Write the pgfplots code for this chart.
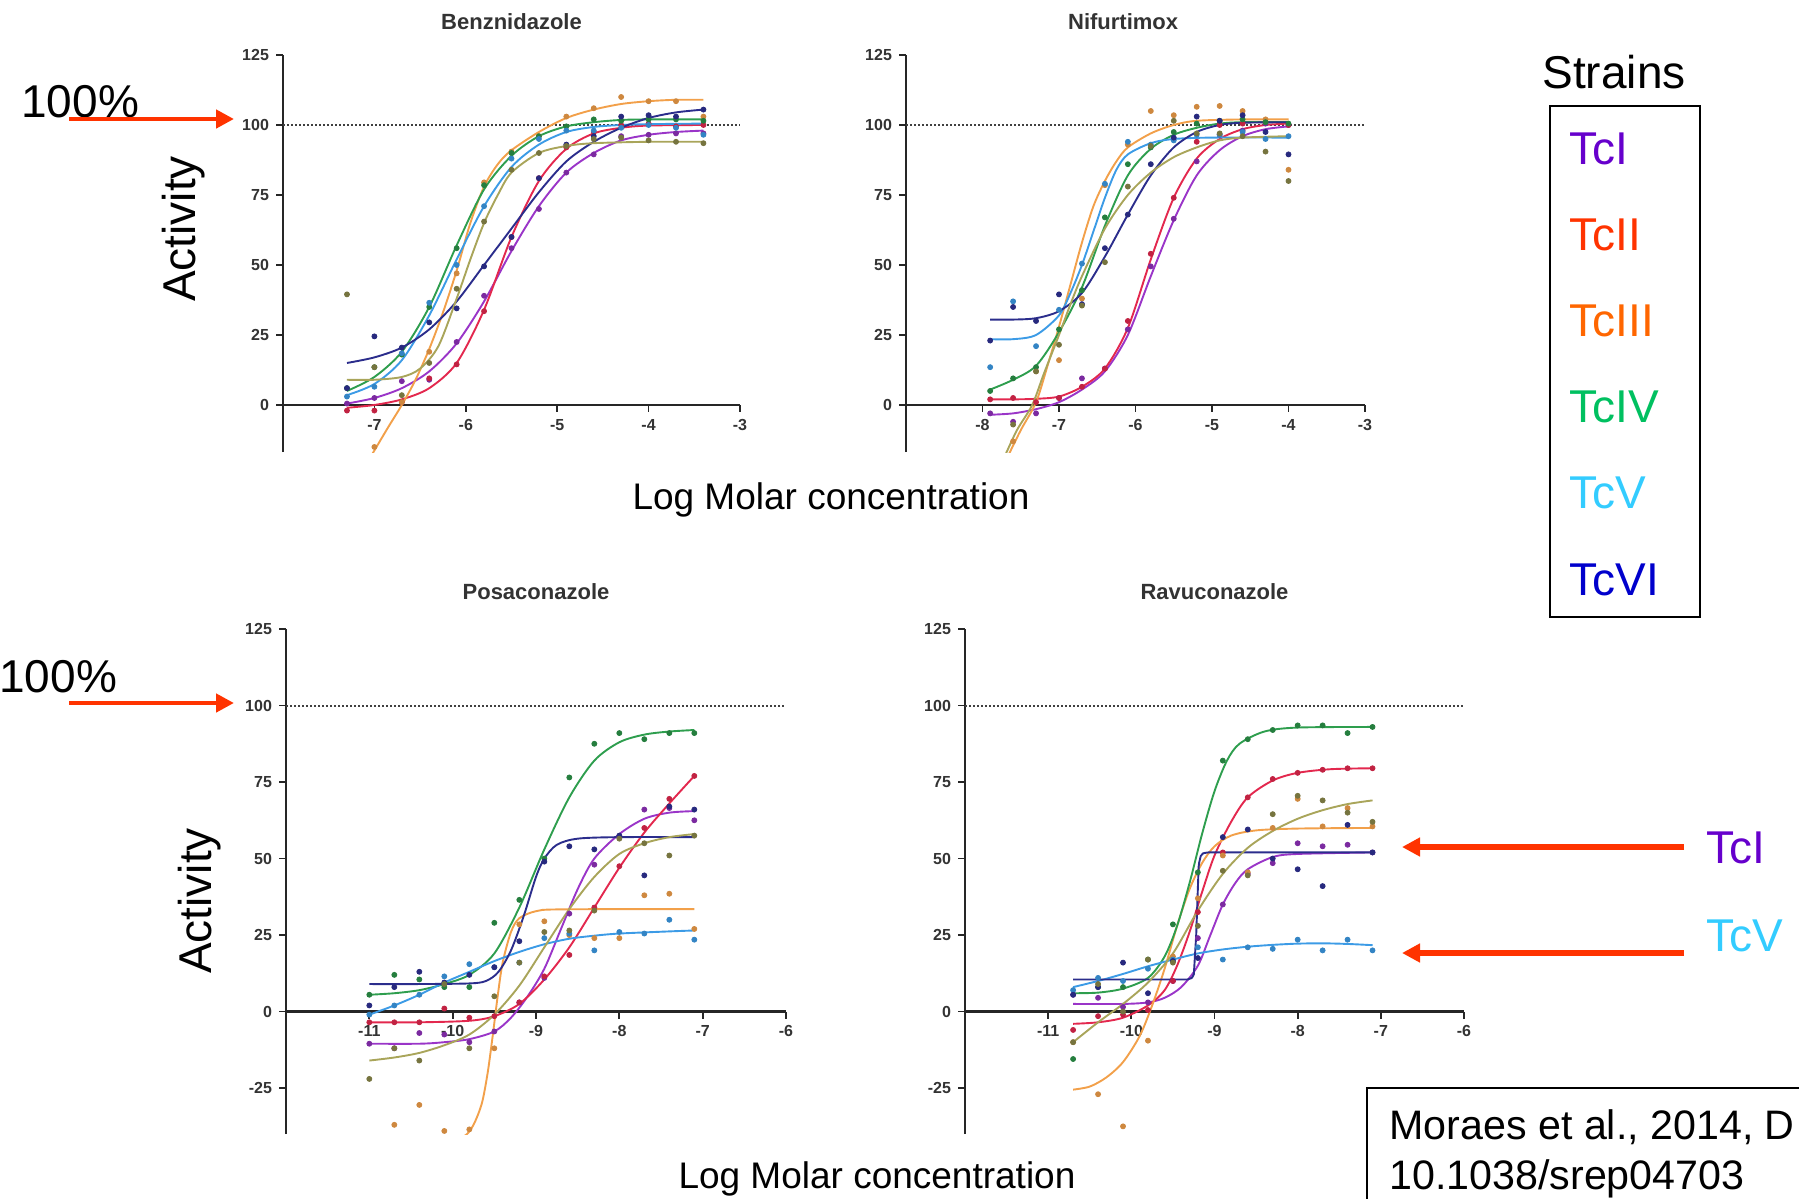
\documentclass[border=0pt]{standalone}
\usepackage{fontspec}
\setmainfont{Liberation Sans}
\usepackage{pgfplots}
\pgfplotsset{compat=1.18}
\usepackage{pgfplotstable}
\usetikzlibrary{arrows.meta}

% curve colours
\definecolor{pu}{HTML}{9A35C8}
\definecolor{rd}{HTML}{E3284E}
\definecolor{orn}{HTML}{F2A04A}
\definecolor{gr}{HTML}{2E9E4E}
\definecolor{lb}{HTML}{3C9BE6}
\definecolor{nv}{HTML}{2B2D8C}
\definecolor{ol}{HTML}{A9A55A}
% legend colours
\definecolor{tcone}{HTML}{6600CC}
\definecolor{tctwo}{HTML}{FF3300}
\definecolor{tcthree}{HTML}{FF6600}
\definecolor{tcfour}{HTML}{00C060}
\definecolor{tcfive}{HTML}{33CCFF}
\definecolor{tcsix}{HTML}{0000CC}
\definecolor{arr}{HTML}{FF3300}

\newcommand{\bigfont}{\fontsize{23}{27}\selectfont}

\pgfplotsset{
  prism/.style={
    scale only axis, anchor=south west,
    axis x line=middle, axis y line=left,
    axis line style={-, line width=1.1pt, black!85},
    tick style={line width=0.9pt, black!85},
    tick align=outside, major tick length=3.5pt,
    ymax=125,
    tick label style={font=\bfseries\fontsize{8}{9}\selectfont, text=black!80},
    /pgf/number format/assume math mode=true,
  },
  fit/.style={no marks, smooth, line width=0.95pt},
  pts/.style={only marks, mark=*, mark size=1.25pt},
  hundred/.style={densely dotted, line width=1pt, black!75},
}

% measured points: x, then purple, red, orange, green, light blue, navy, olive
\pgfplotstableread{
x     pu    rd    or    gr    lb    nv    ol
-7.3  0.5   -2    nan   6     3     6     39.5
-7.0  2.5   -2    -15   13.5  6.5   24.5  13.5
-6.7  8.5   1     1     18    18.5  20.5  3.5
-6.4  9     9.5   19    35    36.5  29.5  15
-6.1  22.5  14.5  47    56    50    34.5  41.5
-5.8  39    33.5  79.5  78.5  71    49.5  65.5
-5.5  56    60    90.5  90    88    60    84
-5.2  70    81    96    96    95    81    90
-4.9  83    92    103   99.5  98    93    92.5
-4.6  89.5  97.5  106   102   98    96    95
-4.3  96    100   110   101.5 99    103   95.5
-4.0  96.5  100.5 108.5 102   100   103.5 94.5
-3.7  97    99.5  108.5 102   99    103   94
-3.4  97    100   103   101.5 96.5  105.5 93.5
}\tBen
\pgfplotstableread{
x     pu    rd    or    gr    lb    nv    ol
-7.9  -3    2     nan   5     13.5  23    nan
-7.6  -6    2.5   -13   9.5   37    35    -7
-7.3  -3    1     12    13.5  21    30    12
-7.0  2.5   2.5   16    27    34    39.5  21.5
-6.7  9.5   6.5   38    41    50.5  36    35.5
-6.4  13    13    78.5  67    79    56    51
-6.1  27    30    93    86    94    68    78
-5.8  49.5  54    105   92    93    86    92.5
-5.5  66.5  74    103.5 97.5  94.5  95.5  101.5
-5.2  87    94    106.5 100.5 96.5  103   97
-4.9  96.5  100   106.8 101.5 96.5  101.5 97
-4.6  98    100.5 105   102   97.5  103.5 96
-4.3  100.5 101   102   101   95    97.5  90.5
-4.0  100   100   84    100.5 96    89.5  80
}\tNif
\pgfplotstableread{
x     pu    rd    or    gr    lb    nv    ol
-11   -10.5 -3.5  nan   5.5   -1    2     -22
-10.7 -12   -3.5  -37   12    2     8     -12
-10.4 -7    -3.5  -30.5 10.5  5.5   13    -16
-10.1 -7.5  1     -39   8     11.5  9.5   9
-9.8  -10   -2    -38.5 8     15.5  12    -12
-9.5  -6.5  -1.5  -12   29    14.5  14.5  5
-9.2  3     3     28.5  36.5  16    23    16
-8.9  11    11.5  29.5  50    24    49    26
-8.6  32    18.5  25    76.5  25.5  54    26.5
-8.3  48    34    24    87.5  20    53    33
-8.0  57    47.5  24    91    26    57.5  56.5
-7.7  66    60    38    89    25.5  44.5  55
-7.4  66.5  69.5  38.5  91    30    67    51
-7.1  62.5  77    27    91    23.5  66    57.5
}\tPos
\pgfplotstableread{
x     pu    rd    or    gr    lb    nv    ol
-10.7 5.5   -6    -10   -15.5 7     5.5   -10
-10.4 4.5   -1.5  -27   8     11    8     9
-10.1 1.5   -1    -37.5 8     10    16    0
-9.8  3     0.5   -9.5  17    14    6     17
-9.5  10    10    18    28.5  17    16.5  16
-9.2  24    32.5  37    45.5  21    17.5  28
-8.9  35    52    51    82    17    57    46
-8.6  45    70    45.5  89    21    59.5  44.5
-8.3  48.5  76    60    92    20.5  50    64.5
-8.0  55    78    69.5  93.5  23.5  46.5  70.5
-7.7  54    79    60.5  93.5  20    41    69
-7.4  54.5  79.5  66.5  91    23.5  61    65
-7.1  52    79.5  60.5  93    20    52    62
}\tRav

\begin{document}
\begin{tikzpicture}
\path[use as bounding box] (0pt,0pt) rectangle (899.5pt,-599.5pt);

% ---------------- Benznidazole
\begin{axis}[prism, at={(141.5pt,-226pt)}, width=228.5pt, height=198.5pt,
  xmin=-8, xmax=-3, ymin=-16.8, xtick={-7,...,-3}, ytick={0,25,...,125},
  title={Benznidazole},
  title style={at={(0.5,1)}, anchor=base, yshift=7pt, font=\bfseries\fontsize{11}{13}\selectfont, text=black!80}]
\addplot[hundred] coordinates {(-8,100) (-3,100)};
\addplot[fit, pu] coordinates {(-7.3,0.5) (-7.0,2.5) (-6.7,6) (-6.4,12) (-6.1,22) (-5.8,37) (-5.5,55) (-5.2,71) (-4.9,83) (-4.6,90) (-4.3,94.5) (-4.0,96.5) (-3.7,97.5) (-3.4,98)};
\addplot[fit, rd] coordinates {(-7.3,-1) (-7.0,0) (-6.7,2) (-6.4,6) (-6.1,15) (-5.8,34) (-5.5,60) (-5.2,80) (-4.9,91.5) (-4.6,97) (-4.3,99) (-4.0,99.8) (-3.4,100)};
\addplot[fit, orn] coordinates {(-7.05,-19) (-6.85,-8) (-6.7,0) (-6.55,9) (-6.4,20) (-6.25,33) (-6.1,48) (-5.95,65) (-5.8,78) (-5.65,86) (-5.5,91) (-5.2,97.5) (-4.9,102.5) (-4.6,105.5) (-4.3,107.5) (-4.0,108.5) (-3.7,109) (-3.4,109)};
\addplot[fit, gr] coordinates {(-7.3,5) (-7.0,10) (-6.7,19) (-6.4,35) (-6.1,57) (-5.8,77) (-5.5,89) (-5.2,96) (-4.9,99.5) (-4.6,101) (-4.3,101.8) (-4.0,102) (-3.4,102)};
\addplot[fit, lb] coordinates {(-7.3,3.5) (-7.0,7.5) (-6.7,16) (-6.4,32) (-6.1,52) (-5.8,71) (-5.5,85) (-5.2,93) (-4.9,97.5) (-4.6,99.3) (-4.3,100) (-4.0,100.3) (-3.4,100.5)};
\addplot[fit, nv] coordinates {(-7.3,15) (-7.0,17) (-6.7,20.5) (-6.4,27) (-6.1,37) (-5.8,50) (-5.5,63) (-5.2,76) (-4.9,87) (-4.6,94) (-4.3,99) (-4.0,102.5) (-3.7,104.5) (-3.4,105.5)};
\addplot[fit, ol] coordinates {(-7.3,9) (-7.0,9) (-6.7,10) (-6.5,13) (-6.3,21) (-6.1,38) (-5.95,52) (-5.8,65) (-5.65,75) (-5.5,83) (-5.2,90) (-4.9,92.5) (-4.6,93.5) (-4.0,94) (-3.4,94)};
\addplot[pts, pu!80!black] table[x=x, y=pu] {\tBen};
\addplot[pts, rd!85!black] table[x=x, y=rd] {\tBen};
\addplot[pts, orn!85!black] table[x=x, y=or] {\tBen};
\addplot[pts, gr!80!black] table[x=x, y=gr] {\tBen};
\addplot[pts, lb!85!black] table[x=x, y=lb] {\tBen};
\addplot[pts, nv!90!black] table[x=x, y=nv] {\tBen};
\addplot[pts, ol!70!black] table[x=x, y=ol] {\tBen};
\end{axis}

% ---------------- Nifurtimox
\begin{axis}[prism, at={(453pt,-226pt)}, width=229.5pt, height=198.5pt,
  xmin=-9, xmax=-3, ymin=-16.8, xtick={-8,...,-3}, ytick={0,25,...,125},
  title={Nifurtimox},
  title style={at={(0.473,1)}, anchor=base, yshift=7pt, font=\bfseries\fontsize{11}{13}\selectfont, text=black!80}]
\addplot[hundred] coordinates {(-9,100) (-3,100)};
\addplot[fit, pu] coordinates {(-7.9,-3.5) (-7.6,-3) (-7.3,-1.5) (-7.0,1) (-6.7,5.5) (-6.4,12) (-6.1,25) (-5.8,46) (-5.5,66) (-5.2,82) (-4.9,91) (-4.6,96) (-4.3,98.5) (-4.0,99.5)};
\addplot[fit, rd] coordinates {(-7.9,2) (-7.6,2) (-7.3,2.2) (-7.0,3) (-6.7,6.5) (-6.4,13) (-6.1,27.5) (-5.8,52) (-5.5,74) (-5.2,88) (-4.9,95) (-4.6,98.5) (-4.3,100) (-4.0,100.5)};
\addplot[fit, orn] coordinates {(-7.68,-19) (-7.5,-9) (-7.3,1) (-7.15,14) (-7.0,28) (-6.85,43) (-6.7,58) (-6.55,71) (-6.4,80) (-6.25,87) (-6.1,92) (-5.8,97) (-5.5,100) (-5.2,101.5) (-4.6,102) (-4.0,102)};
\addplot[fit, gr] coordinates {(-7.9,5.5) (-7.6,9) (-7.3,14) (-7.0,26) (-6.7,42) (-6.4,64) (-6.1,82) (-5.8,91.5) (-5.5,96.5) (-5.2,99) (-4.9,100.5) (-4.6,101) (-4.0,101)};
\addplot[fit, lb] coordinates {(-7.9,23.5) (-7.6,23.5) (-7.3,25) (-7.0,32) (-6.85,40) (-6.7,50) (-6.55,62) (-6.4,74) (-6.25,84) (-6.1,89.5) (-5.8,93.5) (-5.5,95) (-5.0,95.5) (-4.0,95.5)};
\addplot[fit, nv] coordinates {(-7.9,30.5) (-7.6,30.5) (-7.3,31) (-7.0,33.5) (-6.7,40) (-6.4,53) (-6.1,68) (-5.8,82) (-5.5,92) (-5.2,97.5) (-4.9,100) (-4.6,100.8) (-4.0,101)};
\addplot[fit, ol] coordinates {(-7.72,-19) (-7.55,-9) (-7.35,0) (-7.2,11) (-7.0,25) (-6.85,36) (-6.7,46) (-6.4,63) (-6.1,75) (-5.8,83) (-5.5,88.5) (-5.2,92) (-4.9,94.5) (-4.6,95.5) (-4.0,96)};
\addplot[pts, pu!80!black] table[x=x, y=pu] {\tNif};
\addplot[pts, rd!85!black] table[x=x, y=rd] {\tNif};
\addplot[pts, orn!85!black] table[x=x, y=or] {\tNif};
\addplot[pts, gr!80!black] table[x=x, y=gr] {\tNif};
\addplot[pts, lb!85!black] table[x=x, y=lb] {\tNif};
\addplot[pts, nv!90!black] table[x=x, y=nv] {\tNif};
\addplot[pts, ol!70!black] table[x=x, y=ol] {\tNif};
\end{axis}

% ---------------- Posaconazole
\begin{axis}[prism, at={(143pt,-567pt)}, width=250pt, height=252.5pt,
  xmin=-12, xmax=-6, ymin=-40, xtick={-11,...,-6}, ytick={-25,0,...,125},
  title={Posaconazole},
  title style={at={(0.5,1)}, anchor=base, yshift=9pt, font=\bfseries\fontsize{11}{13}\selectfont, text=black!80}]
\addplot[hundred] coordinates {(-12,100) (-6,100)};
\addplot[fit, pu] coordinates {(-11,-10.5) (-10.4,-10.5) (-10.1,-10) (-9.8,-9) (-9.5,-6.5) (-9.3,-2) (-9.1,5) (-8.9,14) (-8.7,27) (-8.5,40) (-8.3,50) (-8.0,58) (-7.7,63) (-7.4,65) (-7.1,65.5)};
\addplot[fit, rd] coordinates {(-11,-3.5) (-10.4,-3.5) (-9.8,-3) (-9.5,-1.5) (-9.2,2.5) (-8.9,10.5) (-8.6,21) (-8.3,34) (-8.0,47) (-7.7,58.5) (-7.4,68) (-7.1,77)};
\addplot[fit, orn] coordinates {(-11,-41) (-10.0,-41) (-9.85,-40.5) (-9.75,-37) (-9.65,-30) (-9.58,-20) (-9.52,-8) (-9.46,5) (-9.4,16) (-9.3,26) (-9.2,30.5) (-9.0,32.8) (-8.7,33.4) (-7.1,33.5)};
\addplot[fit, gr] coordinates {(-11,5.5) (-10.7,6) (-10.4,7) (-10.1,9) (-9.8,12) (-9.5,19) (-9.2,34) (-8.9,53) (-8.6,70) (-8.3,82) (-8.0,88) (-7.7,90.5) (-7.4,91.5) (-7.1,92)};
\addplot[fit, lb] coordinates {(-11,-1) (-10.7,2) (-10.4,5.5) (-10.1,9.5) (-9.8,13) (-9.5,16.5) (-9.2,19.5) (-8.9,22) (-8.6,23.8) (-8.3,24.8) (-8.0,25.5) (-7.4,26.2) (-7.1,26.5)};
\addplot[fit, nv] coordinates {(-11,9) (-10.4,9) (-9.8,9.2) (-9.6,10) (-9.45,13) (-9.3,20) (-9.15,31) (-9.0,44) (-8.9,50) (-8.75,54.5) (-8.5,56.5) (-8.0,57) (-7.1,57)};
\addplot[fit, ol] coordinates {(-11,-16) (-10.7,-15) (-10.4,-13.5) (-10.1,-11) (-9.8,-7.5) (-9.5,-1) (-9.2,8.5) (-8.9,21) (-8.6,33.5) (-8.3,44) (-8.0,51.5) (-7.7,55) (-7.4,57) (-7.1,58)};
\addplot[pts, pu!80!black] table[x=x, y=pu] {\tPos};
\addplot[pts, rd!85!black] table[x=x, y=rd] {\tPos};
\addplot[pts, orn!85!black] table[x=x, y=or] {\tPos};
\addplot[pts, gr!80!black] table[x=x, y=gr] {\tPos};
\addplot[pts, lb!85!black] table[x=x, y=lb] {\tPos};
\addplot[pts, nv!90!black] table[x=x, y=nv] {\tPos};
\addplot[pts, ol!70!black] table[x=x, y=ol] {\tPos};
\end{axis}

% ---------------- Ravuconazole
\begin{axis}[prism, at={(482.5pt,-567pt)}, width=249.5pt, height=252.5pt,
  xmin=-12, xmax=-6, ymin=-40, xtick={-11,...,-6}, ytick={-25,0,...,125},
  title={Ravuconazole},
  title style={at={(0.5,1)}, anchor=base, yshift=9pt, font=\bfseries\fontsize{11}{13}\selectfont, text=black!80}]
\addplot[hundred] coordinates {(-12,100) (-6,100)};
\addplot[fit, pu] coordinates {(-10.7,2.5) (-10.1,2.5) (-9.8,3) (-9.6,4.5) (-9.4,8) (-9.2,15) (-9.05,25) (-8.9,35) (-8.75,42) (-8.6,46.5) (-8.3,50.5) (-8.0,51.5) (-7.1,52)};
\addplot[fit, rd] coordinates {(-10.7,-4) (-10.4,-3.5) (-10.1,-2) (-9.8,2) (-9.6,7) (-9.45,15) (-9.3,26) (-9.15,39) (-9.0,51) (-8.8,62) (-8.6,70) (-8.3,75.5) (-8.0,78) (-7.6,79.2) (-7.1,79.5)};
\addplot[fit, orn] coordinates {(-10.7,-25.5) (-10.5,-24.5) (-10.3,-21.5) (-10.1,-16.5) (-9.9,-8) (-9.75,2) (-9.6,14) (-9.45,28) (-9.3,40) (-9.15,48.5) (-9.0,54) (-8.8,57.5) (-8.5,59.2) (-8.0,59.8) (-7.1,60)};
\addplot[fit, gr] coordinates {(-10.7,6) (-10.4,6.2) (-10.1,7.5) (-9.8,11) (-9.6,18) (-9.45,28) (-9.3,42) (-9.15,58) (-9.0,72) (-8.85,82) (-8.7,87.5) (-8.4,91.5) (-8.0,92.8) (-7.1,93)};
\addplot[fit, lb] coordinates {(-10.7,8) (-10.4,10) (-10.1,12.3) (-9.8,14.8) (-9.5,17) (-9.2,19) (-8.9,20.3) (-8.6,21.2) (-8.3,21.8) (-8.0,22.2) (-7.7,22.3) (-7.4,22.1) (-7.1,21.7)};
\addplot[no marks, line width=0.95pt, nv, rounded corners=1pt] coordinates {(-10.7,10.5) (-9.3,10.5) (-9.25,11.5) (-9.22,25) (-9.19,48) (-9.16,51.5) (-9.1,52) (-7.1,52)};
\addplot[fit, ol] coordinates {(-10.7,-10) (-10.4,-3.5) (-10.1,2.5) (-9.8,9.5) (-9.5,19) (-9.2,33) (-8.9,45) (-8.6,53.5) (-8.3,59) (-8.0,63) (-7.7,65.8) (-7.4,67.8) (-7.1,69)};
\addplot[pts, pu!80!black] table[x=x, y=pu] {\tRav};
\addplot[pts, rd!85!black] table[x=x, y=rd] {\tRav};
\addplot[pts, orn!85!black] table[x=x, y=or] {\tRav};
\addplot[pts, gr!80!black] table[x=x, y=gr] {\tRav};
\addplot[pts, lb!85!black] table[x=x, y=lb] {\tRav};
\addplot[pts, nv!90!black] table[x=x, y=nv] {\tRav};
\addplot[pts, ol!70!black] table[x=x, y=ol] {\tRav};
\end{axis}

% ---------------- annotations
\node[anchor=base west, inner sep=0, font=\bigfont] at (10.5pt,-58.5pt) {100\%};
\draw[arr, line width=2.4pt, -{Triangle[length=9pt, width=9pt]}] (34.5pt,-59.5pt) -- (117pt,-59.5pt);
\node[anchor=base west, inner sep=0, font=\bigfont] at (-0.5pt,-346pt) {100\%};
\draw[arr, line width=2.4pt, -{Triangle[length=9pt, width=9pt]}] (34.5pt,-351.5pt) -- (117pt,-351.5pt);

\node[rotate=90, inner sep=0, font=\bigfont] at (92pt,-114.5pt) {Activity};
\node[rotate=90, inner sep=0, font=\bigfont] at (100pt,-450.5pt) {Activity};
\node[inner sep=0, font=\fontsize{18.5}{22}\selectfont] at (415.5pt,-250pt) {Log Molar concentration};
\node[inner sep=0, font=\fontsize{18.5}{22}\selectfont] at (438.5pt,-589.5pt) {Log Molar concentration};

\node[anchor=base, inner sep=0, font=\bigfont] at (807pt,-44pt) {Strains};
\draw[line width=0.9pt] (775pt,-53pt) rectangle (850pt,-308.5pt);
\node[anchor=base west, inner sep=0, font=\bigfont, text=tcone]   at (784.5pt,-82pt)    {TcI};
\node[anchor=base west, inner sep=0, font=\bigfont, text=tctwo]   at (784.5pt,-125pt)   {TcII};
\node[anchor=base west, inner sep=0, font=\bigfont, text=tcthree] at (784.5pt,-168pt)   {TcIII};
\node[anchor=base west, inner sep=0, font=\bigfont, text=tcfour]  at (784.5pt,-211pt)   {TcIV};
\node[anchor=base west, inner sep=0, font=\bigfont, text=tcfive]  at (784.5pt,-254pt)   {TcV};
\node[anchor=base west, inner sep=0, font=\bigfont, text=tcsix]   at (784.5pt,-297.5pt) {TcVI};

\node[anchor=base west, inner sep=0, font=\bigfont, text=tcone]  at (853pt,-431.5pt) {TcI};
\node[anchor=base west, inner sep=0, font=\bigfont, text=tcfive] at (853pt,-475.5pt) {TcV};
\draw[arr, line width=2.6pt, -{Triangle[length=9pt, width=9pt]}] (842pt,-423.5pt) -- (701pt,-423.5pt);
\draw[arr, line width=2.6pt, -{Triangle[length=9pt, width=9pt]}] (842pt,-476.5pt) -- (701pt,-476.5pt);

\begin{scope}
\clip (0pt,0pt) rectangle (899.5pt,-599.5pt);
\draw[line width=1.3pt] (683.5pt,-544pt) rectangle (920pt,-620pt);
\end{scope}
\node[anchor=base west, inner sep=0, font=\fontsize{20.6}{24}\selectfont] at (694.5pt,-569.5pt) {Moraes et al., 2014, D};
\node[anchor=base west, inner sep=0, font=\fontsize{20.6}{24}\selectfont] at (694.5pt,-594.5pt) {10.1038/srep04703};
\end{tikzpicture}
\end{document}
